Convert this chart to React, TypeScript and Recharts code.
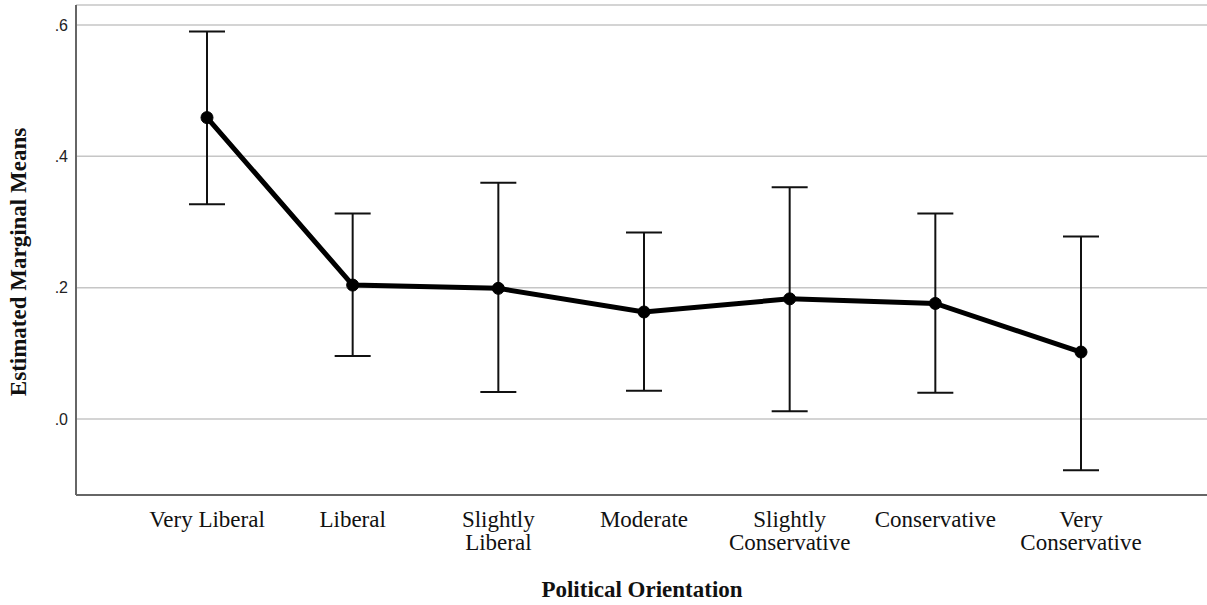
import React from 'react';
import { LineChart, Line, XAxis, YAxis, CartesianGrid, ErrorBar } from 'recharts';

const categories = [
  'Very Liberal',
  'Liberal',
  'Slightly\nLiberal',
  'Moderate',
  'Slightly\nConservative',
  'Conservative',
  'Very\nConservative',
];
const means = [0.459, 0.204, 0.199, 0.163, 0.183, 0.176, 0.102];
const lowerCI = [0.327, 0.096, 0.041, 0.043, 0.012, 0.04, -0.078];
const upperCI = [0.59, 0.313, 0.36, 0.284, 0.353, 0.313, 0.278];
const yTicks = [0, 0.2, 0.4, 0.6];

const data = categories.map((name, i) => ({
  name,
  mean: means[i],
  err: [means[i] - lowerCI[i], upperCI[i] - means[i]],
}));

const serif = '"Liberation Serif", "Times New Roman", serif';
const sans = '"Liberation Sans", Arial, sans-serif';

const CategoryTick = (props: any) => {
  const { x, y, payload } = props;
  const lines = String(payload.value).split('\n');
  return (
    <text x={x} y={y} textAnchor="middle" fontFamily={serif} fontSize={23} fill="#111">
      {lines.map((ln, i) => (
        <tspan key={i} x={x} dy={i === 0 ? 24 : 23}>
          {ln}
        </tspan>
      ))}
    </text>
  );
};

export default function App() {
  return (
    <div style={{ position: 'absolute', left: 0, top: 0, background: '#fff' }}>
      <LineChart width={1207} height={605} data={data} margin={{ top: 5, right: 0, bottom: 0, left: 0 }}>
        <CartesianGrid vertical={false} stroke="#c6c6c6" strokeWidth={1.5} />
        <XAxis
          dataKey="name"
          scale="point"
          padding={{ left: 131, right: 126 }}
          height={110}
          tickLine={false}
          axisLine={{ stroke: '#666', strokeWidth: 2 }}
          tick={<CategoryTick />}
          interval={0}
          label={{
            content: () => (
              <text x={642} y={597} textAnchor="middle" fontFamily={serif} fontWeight="bold" fontSize={23} fill="#111">
                Political Orientation
              </text>
            ),
          }}
        />
        <YAxis
          width={76}
          domain={[-0.1157, 0.6305]}
          allowDataOverflow
          ticks={yTicks}
          tickFormatter={(v: number) => v.toFixed(1).replace(/^0/, '')}
          tickLine={false}
          axisLine={{ stroke: '#666', strokeWidth: 2 }}
          tick={{ fontFamily: sans, fontSize: 16, fill: '#222' }}
          label={{
            content: () => (
              <text
                x={18}
                y={262}
                transform="rotate(-90, 18, 262)"
                textAnchor="middle"
                dominantBaseline="central"
                fontFamily={serif}
                fontWeight="bold"
                fontSize={23}
                fill="#111"
              >
                Estimated Marginal Means
              </text>
            ),
          }}
        />
        <Line
          dataKey="mean"
          stroke="#000"
          strokeWidth={5}
          dot={{ r: 6, fill: '#000', stroke: '#000', strokeWidth: 1 }}
          activeDot={false}
          isAnimationActive={false}
        >
          <ErrorBar dataKey="err" width={18} stroke="#111" strokeWidth={2} direction="y" isAnimationActive={false} />
        </Line>
      </LineChart>
    </div>
  );
}
